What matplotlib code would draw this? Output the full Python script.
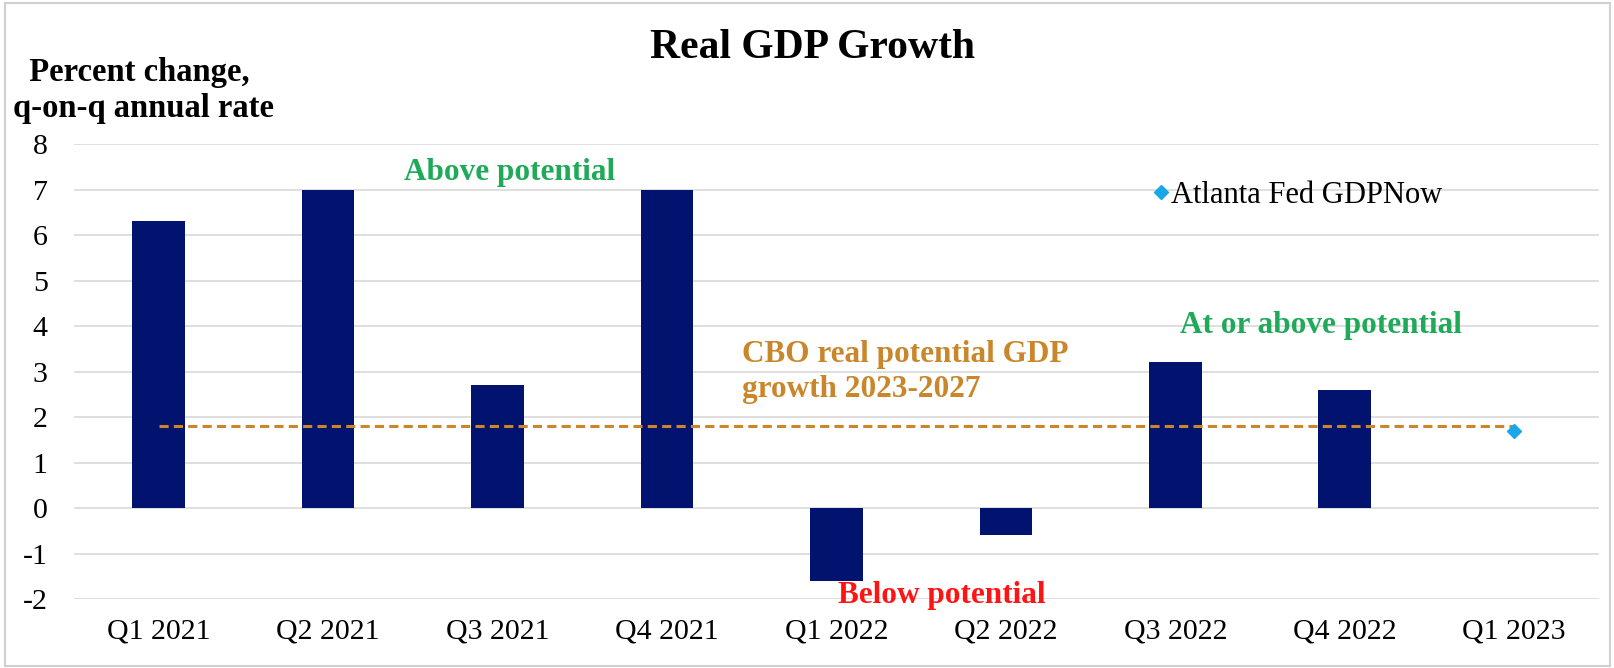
import numpy as np
import matplotlib
matplotlib.use("Agg")
import matplotlib.pyplot as plt
from matplotlib.patches import Rectangle

plt.rcParams["font.family"] = ["Liberation Serif", "DejaVu Serif"]
plt.rcParams["axes.unicode_minus"] = False

# --- data ---
quarters = ["Q1 2021", "Q2 2021", "Q3 2021", "Q4 2021", "Q1 2022",
            "Q2 2022", "Q3 2022", "Q4 2022", "Q1 2023"]
gdp_growth = [6.3, 7.0, 2.7, 7.0, -1.6, -0.6, 3.2, 2.6, np.nan]
cbo_potential = [1.8] * 9
gdpnow_quarter = ["Q1 2023"]
gdpnow_value = [1.7]
y_ticks = list(range(-2, 9))

navy = "#02136F"
gold = "#C9862A"
green = "#1FAA59"
red = "#FF1414"
cyan = "#1AA7E8"

fig = plt.figure(figsize=(16.15, 6.68), dpi=100)
ax = fig.add_axes([0.0458, 0.1033, 0.9442, 0.681])

x = np.arange(len(quarters))
ax.bar(x, gdp_growth, width=0.31, color=navy, zorder=3)
ax.plot(x, cbo_potential, color=gold, linewidth=2.2,
        linestyle=(0, (3.0, 1.7)), zorder=4)
gx = [quarters.index(q) for q in gdpnow_quarter]
ax.plot(gx, gdpnow_value, linestyle="none", marker="D", markersize=7,
        color=cyan, zorder=5, label="Atlanta Fed GDPNow")

ax.set_xlim(-0.5, len(quarters) - 0.5)
ax.set_ylim(-2, 8)
ax.set_yticks(y_ticks)
ax.set_xticks(x)
ax.set_xticklabels(quarters)
ax.tick_params(axis="both", length=0, labelsize=21.5)
ax.tick_params(axis="y", pad=19)
ax.tick_params(axis="x", pad=14)
ax.grid(axis="y", color="#D9D9D9", linewidth=1.2, zorder=0)
for s in ax.spines.values():
    s.set_visible(False)

# annotations
ax.text(2.07, 7.05, "Above potential", color=green, fontsize=22.5,
        fontweight="bold", ha="center", va="bottom")
ax.text(6.86, 3.7, "At or above potential", color=green, fontsize=22.5,
        fontweight="bold", ha="center", va="bottom")
ax.text(3.44, 3.7, "CBO real potential GDP\ngrowth 2023-2027", color=gold,
        fontsize=22.5, fontweight="bold", ha="left", va="top", linespacing=1.3)
ax.text(4.62, -1.6, "Below potential", color=red, fontsize=22.5,
        fontweight="bold", ha="center", va="top")

fig.legend(loc="center left", bbox_to_anchor=(0.714, 0.708), frameon=False,
           fontsize=22, handlelength=0.5, handletextpad=0.1,
           borderaxespad=0, borderpad=0)

fig.text(0.503, 0.928, "Real GDP Growth", fontsize=30, fontweight="bold",
         ha="center", va="center")
fig.text(0.008, 0.815, "  Percent change,\nq-on-q annual rate", fontsize=23.5,
         fontweight="bold", ha="left", va="bottom", linespacing=1.2)

fig.patches.append(Rectangle((0.003, 0.003), 0.994, 0.992, transform=fig.transFigure,
                             fill=False, edgecolor="#D0D0D0", linewidth=1.5))

fig.savefig("out.png", dpi=100)
